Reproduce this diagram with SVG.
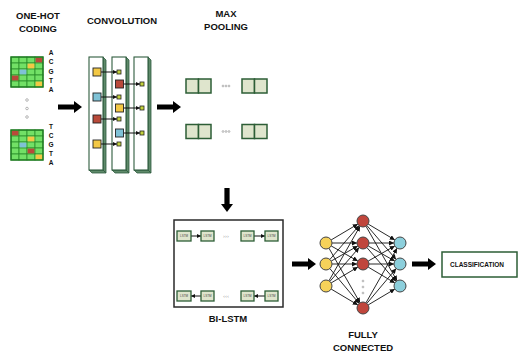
<svg xmlns="http://www.w3.org/2000/svg" width="518" height="354" viewBox="0 0 518 354">
  <style>
    .title { font-family: "Liberation Sans", Arial, sans-serif; font-weight: bold; font-size: 9.5px; fill: #111; text-anchor: middle; }
    .base { font-family: "Liberation Sans", Arial, sans-serif; font-weight: bold; font-size: 6.5px; fill: #111; text-anchor: middle; }
    .lstmtxt { font-family: "Liberation Sans", Arial, sans-serif; font-size: 3px; fill: #444; text-anchor: middle; }
    .ellipsis { font-family: "DejaVu Sans", sans-serif; font-size: 5px; fill: #999; text-anchor: middle; }
    .cell { fill: #72e066; stroke: #2c8f2c; stroke-width: 0.8; }
    .gridframe { fill: none; stroke: #1f7a22; stroke-width: 1.4; }
    .red { fill: #b94a3a; }
    .yel { fill: #f3c845; }
    .blu { fill: #7fc2d6; }
    .slab { fill: #ffffff; stroke: #2f5c3f; stroke-width: 1.1; }
    .slabside { fill: #5f8a6a; stroke: #2f5c3f; stroke-width: 0.8; }
    .csq { stroke: #222; stroke-width: 0.9; }
    .tiny { fill: #c3d23c; stroke: #222; stroke-width: 0.8; }
    .link { stroke: #111; stroke-width: 1; fill: none; }
    .pool { fill: #dfe5cd; stroke: #2d5e36; stroke-width: 1.5; }
    .lstm { fill: #dfe5cd; stroke: #2d5e36; stroke-width: 1.3; }
    .dot { fill: none; stroke: #888; stroke-width: 0.6; }
    .edge { stroke: #111; stroke-width: 0.9; fill: none; marker-end: url(#tip); }
    .node { stroke: #444; stroke-width: 1; }
    .big { fill: #000; }
  </style>
  <defs>
    <marker id="tip" viewBox="0 0 10 10" refX="10" refY="5" markerWidth="5" markerHeight="5" markerUnits="userSpaceOnUse" orient="auto">
      <path d="M0,0 L10,5 L0,10 Z" fill="#111"/>
    </marker>
    <marker id="tip2" viewBox="0 0 10 10" refX="10" refY="5" markerWidth="4" markerHeight="4" markerUnits="userSpaceOnUse" orient="auto">
      <path d="M0,0 L10,5 L0,10 Z" fill="#111"/>
    </marker>
    <path id="bigArrow" d="M0,-2.6 H16 V-6 L24,0 L16,6 V2.6 H0 Z"/>
    <!-- one convolution slab with a thin 3D edge -->
    <g id="slab">
      <polygon class="slabside" points="14,0 17,3 17,116 14,113"/>
      <polygon class="slabside" points="0,113 14,113 17,116 3,116"/>
      <rect class="slab" x="0" y="0" width="14" height="113"/>
    </g>
    <!-- 4x5 one-hot grid -->
    <g id="grid">
      <rect class="cell" x="0" y="0" width="8" height="6"/>
      <rect class="cell" x="8" y="0" width="8" height="6"/>
      <rect class="cell" x="16" y="0" width="8" height="6"/>
      <rect class="cell" x="24" y="0" width="8" height="6"/>
      <rect class="cell" x="0" y="6" width="8" height="6"/>
      <rect class="cell" x="8" y="6" width="8" height="6"/>
      <rect class="cell" x="16" y="6" width="8" height="6"/>
      <rect class="cell" x="24" y="6" width="8" height="6"/>
      <rect class="cell" x="0" y="12" width="8" height="6"/>
      <rect class="cell" x="8" y="12" width="8" height="6"/>
      <rect class="cell" x="16" y="12" width="8" height="6"/>
      <rect class="cell" x="24" y="12" width="8" height="6"/>
      <rect class="cell" x="0" y="18" width="8" height="6"/>
      <rect class="cell" x="8" y="18" width="8" height="6"/>
      <rect class="cell" x="16" y="18" width="8" height="6"/>
      <rect class="cell" x="24" y="18" width="8" height="6"/>
      <rect class="cell" x="0" y="24" width="8" height="6"/>
      <rect class="cell" x="8" y="24" width="8" height="6"/>
      <rect class="cell" x="16" y="24" width="8" height="6"/>
      <rect class="cell" x="24" y="24" width="8" height="6"/>
    </g>
  </defs>

  <rect width="518" height="354" fill="#ffffff"/>

  <!-- One-hot coding -->
  <g id="onehot">
    <text class="title" x="38" y="19">ONE-HOT</text>
    <text class="title" x="38" y="31.5">CODING</text>
    <g transform="translate(11,57)">
      <use href="#grid"/>
      <rect class="red" x="24.6" y="0.6" width="6.8" height="4.8"/>
      <rect class="yel" x="16.6" y="6.6" width="6.8" height="4.8"/>
      <rect class="blu" x="8.6" y="12.6" width="6.8" height="4.8"/>
      <rect class="red" x="0.6" y="18.6" width="6.8" height="4.8"/>
      <rect class="yel" x="24.6" y="24.6" width="6.8" height="4.8"/>
      <rect class="gridframe" x="0" y="0" width="32" height="30"/>
    </g>
    <text class="base" x="51" y="54.5">A</text>
    <text class="base" x="51" y="64">C</text>
    <text class="base" x="51" y="73.5">G</text>
    <text class="base" x="51" y="82.5">T</text>
    <text class="base" x="51" y="91.5">A</text>
    <circle class="dot" cx="27" cy="100" r="1.3"/>
    <circle class="dot" cx="27" cy="108.5" r="1.3"/>
    <circle class="dot" cx="27" cy="117" r="1.3"/>
    <g transform="translate(11,130)">
      <use href="#grid"/>
      <rect class="red" x="0.6" y="0.6" width="6.8" height="4.8"/>
      <rect class="yel" x="16.6" y="6.6" width="6.8" height="4.8"/>
      <rect class="blu" x="8.6" y="12.6" width="6.8" height="4.8"/>
      <rect class="red" x="16.6" y="18.6" width="6.8" height="4.8"/>
      <rect class="yel" x="24.6" y="24.6" width="6.8" height="4.8"/>
      <rect class="gridframe" x="0" y="0" width="32" height="30"/>
    </g>
    <text class="base" x="51" y="128.5">T</text>
    <text class="base" x="51" y="137.5">C</text>
    <text class="base" x="51" y="146.5">G</text>
    <text class="base" x="51" y="156">T</text>
    <text class="base" x="51" y="165">A</text>
  </g>

  <!-- Convolution -->
  <g id="convolution">
    <text class="title" x="122" y="24">CONVOLUTION</text>
    <use href="#slab" x="89" y="57"/>
    <use href="#slab" x="112" y="57"/>
    <use href="#slab" x="134" y="57"/>
    <!-- first layer filters -->
    <line class="link" x1="101" y1="72" x2="117" y2="72" marker-end="url(#tip2)"/>
    <line class="link" x1="101" y1="97" x2="117" y2="97" marker-end="url(#tip2)"/>
    <line class="link" x1="101" y1="119" x2="117" y2="119" marker-end="url(#tip2)"/>
    <line class="link" x1="101" y1="144" x2="117" y2="144" marker-end="url(#tip2)"/>
    <rect class="csq yel" x="93" y="68" width="8" height="8"/>
    <rect class="csq blu" x="93" y="93" width="8" height="8"/>
    <rect class="csq red" x="93" y="115" width="8" height="8"/>
    <rect class="csq yel" x="93" y="140" width="8" height="8"/>
    <rect class="tiny" x="117" y="70" width="4" height="4"/>
    <rect class="tiny" x="117" y="95" width="4" height="4"/>
    <rect class="tiny" x="117" y="117" width="4" height="4"/>
    <rect class="tiny" x="117" y="142" width="4" height="4"/>
    <!-- second layer filters -->
    <line class="link" x1="123.5" y1="84" x2="140" y2="84" marker-end="url(#tip2)"/>
    <line class="link" x1="123.5" y1="108" x2="140" y2="108" marker-end="url(#tip2)"/>
    <line class="link" x1="123.5" y1="133" x2="140" y2="133" marker-end="url(#tip2)"/>
    <rect class="csq red" x="115.5" y="80" width="8" height="8"/>
    <rect class="csq yel" x="115.5" y="104" width="8" height="8"/>
    <rect class="csq blu" x="115.5" y="129" width="8" height="8"/>
    <rect class="tiny" x="140" y="82" width="4" height="4"/>
    <rect class="tiny" x="140" y="106" width="4" height="4"/>
    <rect class="tiny" x="140" y="131" width="4" height="4"/>
  </g>

  <!-- Max pooling -->
  <g id="maxpooling">
    <text class="title" x="226" y="17">MAX</text>
    <text class="title" x="226" y="30">POOLING</text>
    <rect class="pool" x="186" y="79" width="12.5" height="14"/>
    <rect class="pool" x="198.5" y="79" width="12.5" height="14"/>
    <rect class="pool" x="242" y="79" width="12.5" height="14"/>
    <rect class="pool" x="254.5" y="79" width="12.5" height="14"/>
    <circle class="dot" cx="223" cy="86" r="0.9"/>
    <circle class="dot" cx="226" cy="86" r="0.9"/>
    <circle class="dot" cx="229" cy="86" r="0.9"/>
    <rect class="pool" x="186" y="124.5" width="12.5" height="14"/>
    <rect class="pool" x="198.5" y="124.5" width="12.5" height="14"/>
    <rect class="pool" x="242" y="124.5" width="12.5" height="14"/>
    <rect class="pool" x="254.5" y="124.5" width="12.5" height="14"/>
    <circle class="dot" cx="223" cy="131.5" r="0.9"/>
    <circle class="dot" cx="226" cy="131.5" r="0.9"/>
    <circle class="dot" cx="229" cy="131.5" r="0.9"/>
  </g>

  <!-- Bi-LSTM -->
  <g id="bilstm">
    <rect x="174" y="220" width="109" height="87" fill="#fff" stroke="#2a2a2a" stroke-width="1.5"/>
    <line class="link" x1="191" y1="236" x2="201" y2="236" marker-end="url(#tip2)"/>
    <line class="link" x1="254" y1="236" x2="265" y2="236" marker-end="url(#tip2)"/>
    <rect class="lstm" x="177" y="231" width="14" height="10"/>
    <rect class="lstm" x="201" y="231" width="13" height="10"/>
    <rect class="lstm" x="241" y="231" width="13" height="10"/>
    <rect class="lstm" x="265" y="231" width="13" height="10"/>
    <text class="lstmtxt" x="184" y="237">LSTM</text>
    <text class="lstmtxt" x="207.5" y="237">LSTM</text>
    <text class="lstmtxt" x="247.5" y="237">LSTM</text>
    <text class="lstmtxt" x="271.5" y="237">LSTM</text>
    <text class="ellipsis" x="226" y="237.8">›››</text>
    <line class="link" x1="201" y1="296" x2="191" y2="296" marker-end="url(#tip2)"/>
    <line class="link" x1="265" y1="296" x2="254" y2="296" marker-end="url(#tip2)"/>
    <rect class="lstm" x="177" y="291" width="14" height="10"/>
    <rect class="lstm" x="201" y="291" width="13" height="10"/>
    <rect class="lstm" x="241" y="291" width="13" height="10"/>
    <rect class="lstm" x="265" y="291" width="13" height="10"/>
    <text class="lstmtxt" x="184" y="297">LSTM</text>
    <text class="lstmtxt" x="207.5" y="297">LSTM</text>
    <text class="lstmtxt" x="247.5" y="297">LSTM</text>
    <text class="lstmtxt" x="271.5" y="297">LSTM</text>
    <text class="ellipsis" x="226" y="297.8">‹‹‹</text>
    <text class="title" x="228" y="322">BI-LSTM</text>
  </g>

  <!-- Fully connected network -->
  <g id="fullyconnected">
    <g id="fc-edges">
      <line class="edge" x1="331.16" y1="239.93" x2="357.84" y2="224.07"/>
      <line class="edge" x1="332" y1="243" x2="357" y2="243"/>
      <line class="edge" x1="331.22" y1="245.96" x2="357.78" y2="261.04"/>
      <line class="edge" x1="328.97" y1="248.21" x2="360.03" y2="302.79"/>
      <line class="edge" x1="329.91" y1="259.45" x2="359.09" y2="225.55"/>
      <line class="edge" x1="331.22" y1="261.04" x2="357.78" y2="245.96"/>
      <line class="edge" x1="332" y1="264" x2="357" y2="264"/>
      <line class="edge" x1="329.86" y1="268.59" x2="359.14" y2="303.41"/>
      <line class="edge" x1="328.97" y1="280.79" x2="360.03" y2="226.21"/>
      <line class="edge" x1="329.91" y1="281.45" x2="359.09" y2="247.55"/>
      <line class="edge" x1="331.16" y1="282.93" x2="357.84" y2="267.07"/>
      <line class="edge" x1="331.16" y1="289.07" x2="357.84" y2="304.93"/>
      <line class="edge" x1="368.16" y1="224.07" x2="394.84" y2="239.93"/>
      <line class="edge" x1="366.91" y1="225.55" x2="396.09" y2="259.45"/>
      <line class="edge" x1="365.97" y1="226.21" x2="397.03" y2="280.79"/>
      <line class="edge" x1="369" y1="243" x2="394" y2="243"/>
      <line class="edge" x1="368.22" y1="245.96" x2="394.78" y2="261.04"/>
      <line class="edge" x1="366.91" y1="247.55" x2="396.09" y2="281.45"/>
      <line class="edge" x1="368.22" y1="261.04" x2="394.78" y2="245.96"/>
      <line class="edge" x1="369" y1="264" x2="394" y2="264"/>
      <line class="edge" x1="368.16" y1="267.07" x2="394.84" y2="282.93"/>
      <line class="edge" x1="365.97" y1="302.79" x2="397.03" y2="248.21"/>
      <line class="edge" x1="366.86" y1="303.41" x2="396.14" y2="268.59"/>
      <line class="edge" x1="368.16" y1="304.93" x2="394.84" y2="289.07"/>
    </g>
    <circle class="node" cx="326" cy="243" r="6" fill="#f6d25a"/>
    <circle class="node" cx="326" cy="264" r="6" fill="#f6d25a"/>
    <circle class="node" cx="326" cy="286" r="6" fill="#f6d25a"/>
    <circle class="node" cx="363" cy="221" r="6" fill="#c0463c"/>
    <circle class="node" cx="363" cy="243" r="6" fill="#c0463c"/>
    <circle class="node" cx="363" cy="264" r="6" fill="#c0463c"/>
    <circle class="node" cx="363" cy="308" r="6" fill="#c0463c"/>
    <circle class="dot" cx="363" cy="281" r="0.9"/>
    <circle class="dot" cx="363" cy="287" r="0.9"/>
    <circle class="dot" cx="363" cy="293" r="0.9"/>
    <circle class="node" cx="400" cy="243" r="6" fill="#8ccfdc"/>
    <circle class="node" cx="400" cy="264" r="6" fill="#8ccfdc"/>
    <circle class="node" cx="400" cy="286" r="6" fill="#8ccfdc"/>
    <text class="title" x="363" y="338">FULLY</text>
    <text class="title" x="363" y="351">CONNECTED</text>
  </g>

  <!-- Classification -->
  <g id="classification">
    <rect x="442" y="252" width="75" height="25" fill="#fff" stroke="#2d5e36" stroke-width="1.5"/>
    <text class="base" x="477" y="266.5">CLASSIFICATION</text>
  </g>

  <!-- Stage-to-stage arrows -->
  <g id="connectors">
    <use class="big" href="#bigArrow" transform="translate(58,107)"/>
    <use class="big" href="#bigArrow" transform="translate(157,107)"/>
    <use class="big" href="#bigArrow" transform="translate(227,188) rotate(90)"/>
    <use class="big" href="#bigArrow" transform="translate(292,264)"/>
    <use class="big" href="#bigArrow" transform="translate(412,264)"/>
  </g>
</svg>
